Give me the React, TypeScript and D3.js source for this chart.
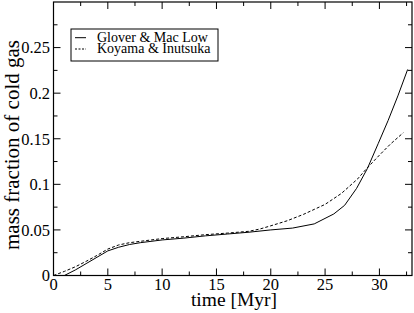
import React, { useEffect, useRef } from "react";
import * as d3 from "d3";

// time in Myr and mass fraction of cold gas
const gloverTime = [0, 1, 2, 3, 4, 5, 6, 7, 8, 10, 12, 14, 16, 18, 20, 22, 24, 25.8, 26.8, 27.9, 28.9, 29.9, 30.8, 31.7, 32.6];
const gloverFrac = [0, 0, 0.006, 0.013, 0.02, 0.027, 0.031, 0.034, 0.036, 0.039, 0.041, 0.0435, 0.0455, 0.0475, 0.05, 0.052, 0.0566, 0.0675, 0.077, 0.0956, 0.1175, 0.145, 0.17, 0.197, 0.226];

const koyamaTime = [0, 1, 2, 3, 4, 5, 6, 7, 8, 10, 12, 14, 16, 18, 19, 20, 21.5, 23, 24, 25, 26.5, 28, 28.8, 30, 31, 32.2];
const koyamaFrac = [0, 0.0045, 0.0095, 0.0155, 0.022, 0.029, 0.0335, 0.036, 0.0375, 0.0405, 0.0425, 0.0448, 0.0465, 0.0485, 0.051, 0.0545, 0.06, 0.067, 0.0725, 0.078, 0.09, 0.106, 0.117, 0.132, 0.144, 0.1566];

const xMajor = [0, 5, 10, 15, 20, 25, 30];
const yMajor = [0, 0.05, 0.1, 0.15, 0.2, 0.25];
const yLabels = ["0", "0.05", "0.1", "0.15", "0.2", "0.25"];

const legendNames = ["Glover & Mac Low", "Koyama & Inutsuka"];

const W = 414;
const H = 313;
const serif = "Liberation Serif, Times New Roman, Times, DejaVu Serif, serif";

export default function App() {
  const ref = useRef<SVGSVGElement>(null);

  useEffect(() => {
    const svg = d3.select(ref.current);
    svg.selectAll("*").remove();

    const left = 53.5, right = 412, top = 2, bottom = 275.5;
    const x = d3.scaleLinear().domain([0, 33]).range([left, right]);
    const y = d3.scaleLinear().domain([0, 0.3]).range([bottom, top]);

    const xMinor = d3.range(2.5, 33, 5);
    const yMinor = d3.range(0.025, 0.3, 0.05);

    // ticks on all four sides, pointing inwards
    const g = svg.append("g").attr("stroke", "#000").attr("stroke-width", 1);
    xMajor.forEach((t) => {
      g.append("line").attr("x1", x(t)).attr("x2", x(t)).attr("y1", bottom).attr("y2", bottom - 7);
      g.append("line").attr("x1", x(t)).attr("x2", x(t)).attr("y1", top).attr("y2", top + 7);
    });
    xMinor.forEach((t) => {
      g.append("line").attr("x1", x(t)).attr("x2", x(t)).attr("y1", bottom).attr("y2", bottom - 4);
      g.append("line").attr("x1", x(t)).attr("x2", x(t)).attr("y1", top).attr("y2", top + 4);
    });
    yMajor.forEach((v) => {
      g.append("line").attr("x1", left).attr("x2", left + 7).attr("y1", y(v)).attr("y2", y(v));
      g.append("line").attr("x1", right).attr("x2", right - 7).attr("y1", y(v)).attr("y2", y(v));
    });
    yMinor.forEach((v) => {
      g.append("line").attr("x1", left).attr("x2", left + 4).attr("y1", y(v)).attr("y2", y(v));
      g.append("line").attr("x1", right).attr("x2", right - 4).attr("y1", y(v)).attr("y2", y(v));
    });

    // the curves
    const line = d3.line<[number, number]>().x((d) => x(d[0])).y((d) => y(d[1]));
    svg.append("path")
      .attr("d", line(gloverTime.map((t, i) => [t, gloverFrac[i]]) as [number, number][]))
      .attr("fill", "none").attr("stroke", "#000").attr("stroke-width", 1);
    svg.append("path")
      .attr("d", line(koyamaTime.map((t, i) => [t, koyamaFrac[i]]) as [number, number][]))
      .attr("fill", "none").attr("stroke", "#000").attr("stroke-width", 1)
      .attr("stroke-dasharray", "3,2");

    // frame
    svg.append("rect")
      .attr("x", left).attr("y", top)
      .attr("width", right - left).attr("height", bottom - top)
      .attr("fill", "none").attr("stroke", "#000").attr("stroke-width", 1.2);

    // tick labels
    svg.selectAll(".xl").data(xMajor).enter().append("text")
      .attr("x", (d) => x(d)).attr("y", 290)
      .attr("text-anchor", "middle")
      .style("font-family", serif).style("font-size", "16.5px")
      .text((d) => String(d));
    svg.selectAll(".yl").data(yMajor).enter().append("text")
      .attr("x", 50).attr("y", (d) => y(d)).attr("dy", "0.35em")
      .attr("text-anchor", "end")
      .style("font-family", serif).style("font-size", "16.5px")
      .text((_, i) => yLabels[i]);

    // axis titles
    svg.append("text")
      .attr("x", 234).attr("y", 306)
      .attr("text-anchor", "middle")
      .style("font-family", serif).style("font-size", "19.5px")
      .text("time [Myr]");
    svg.append("text")
      .attr("transform", "translate(18.5,145) rotate(-90)")
      .attr("text-anchor", "middle")
      .style("font-family", serif).style("font-size", "21px")
      .text("mass fraction of cold gas");

    // legend
    const leg = svg.append("g");
    leg.append("rect")
      .attr("x", 71).attr("y", 29).attr("width", 147).attr("height", 32)
      .attr("fill", "#fff").attr("stroke", "#000").attr("stroke-width", 1);
    legendNames.forEach((name, i) => {
      const ly = 37.7 + i * 11.3;
      leg.append("line")
        .attr("x1", 75).attr("x2", 86).attr("y1", ly).attr("y2", ly)
        .attr("stroke", "#000").attr("stroke-width", 1)
        .attr("stroke-dasharray", i === 1 ? "2,1.5" : null);
      leg.append("text")
        .attr("x", 97).attr("y", ly + 4)
        .style("font-family", serif).style("font-size", "14px")
        .text(name);
    });
  }, []);

  return (
    <svg
      ref={ref}
      width={W}
      height={H}
      style={{ position: "absolute", left: 0, top: 0, background: "#fff" }}
    />
  );
}
